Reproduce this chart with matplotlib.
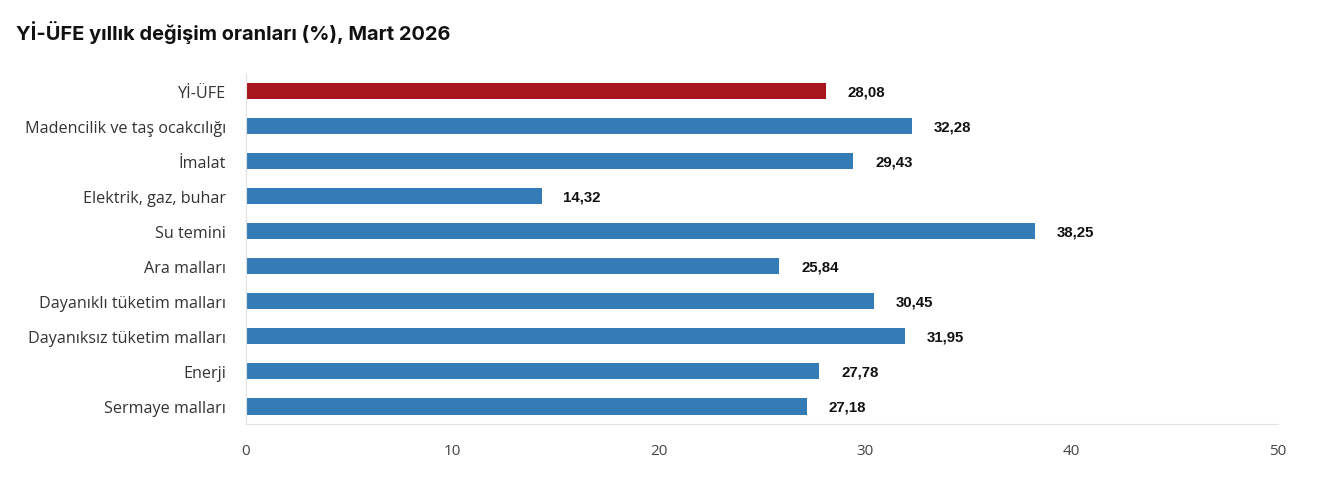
import matplotlib.pyplot as plt

categories = [
    "Yİ-ÜFE",
    "Madencilik ve taş ocakcılığı",
    "İmalat",
    "Elektrik, gaz, buhar",
    "Su temini",
    "Ara malları",
    "Dayanıklı tüketim malları",
    "Dayanıksız tüketim malları",
    "Enerji",
    "Sermaye malları",
]
values = [28.08, 32.28, 29.43, 14.32, 38.25, 25.84, 30.45, 31.95, 27.78, 27.18]
xticks = [0, 10, 20, 30, 40, 50]

red = "#a8161d"
blue = "#337cb8"
colors = [red] + [blue] * (len(values) - 1)

fig = plt.figure(figsize=(13.18, 4.81), dpi=100)
ax = fig.add_axes([246 / 1318, 1 - 425 / 481, (1278 - 246) / 1318, (425 - 74.5) / 481])

y = list(range(len(categories)))
ax.barh(y, values, height=0.46, color=colors, zorder=2)
ax.set_ylim(len(categories) - 0.5, -0.5)
ax.set_xlim(0, 50)

for yi, v in zip(y, values):
    ax.text(v + 1.05, yi, f"{v:.2f}".replace(".", ","), ha="left", va="center",
            fontsize=10.8, fontweight="bold", family="Liberation Sans", color="#111111")

ax.set_yticks(y)
ax.set_yticklabels(categories, fontsize=11.6, family="Open Sans", color="#333333")
ax.set_xticks(xticks)
ax.set_xticklabels([str(t) for t in xticks], fontsize=11, family="Open Sans", color="#444444")
ax.tick_params(axis="both", length=0)
ax.tick_params(axis="y", pad=14.5)
ax.tick_params(axis="x", pad=14)

for s in ["top", "right"]:
    ax.spines[s].set_visible(False)
ax.spines["left"].set_color("#e2e2e2")
ax.spines["bottom"].set_color("#e2e2e2")

fig.text(16 / 1318, 1 - 32 / 481, "Yİ-ÜFE yıllık değişim oranları (%), Mart 2026",
         fontsize=14.4, fontweight="bold", family="Inter", color="#111111", va="center")

fig.savefig("out.png", dpi=100)
